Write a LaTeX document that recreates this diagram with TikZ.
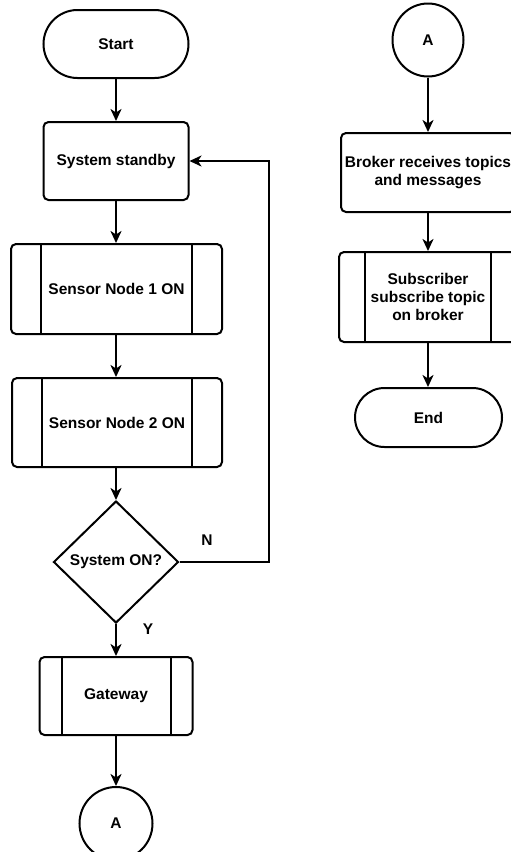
\documentclass[tikz,border=0pt]{standalone}
\usepackage{fontspec}
\setmainfont{Liberation Sans}
\usetikzlibrary{shapes.geometric,arrows.meta}
\begin{document}
\begin{tikzpicture}[x=1pt,y=-1pt,
  every node/.style={font=\fontsize{15.5}{18}\selectfont\bfseries, align=center, inner sep=0pt},
  box/.style={draw, line width=2pt, rectangle, rounded corners=5pt, minimum width=#1},
  term/.style={draw, line width=2pt, rectangle, rounded corners=#1},
  subproc/.style={draw, line width=2pt, rectangle, rounded corners=5pt,
    path picture={
      \draw[line width=2pt] ([xshift=#1]path picture bounding box.north west) -- ([xshift=#1]path picture bounding box.south west);
      \draw[line width=2pt] ([xshift=-#1]path picture bounding box.north east) -- ([xshift=-#1]path picture bounding box.south east);
    }},
  dec/.style={draw, line width=2pt, diamond, minimum width=125pt, minimum height=122pt},
  conn/.style={draw, line width=2pt, ellipse},
  arr/.style={line width=2pt, -{Stealth[length=12pt,width=11pt,inset=3.5pt]}},
  lbl/.style={font=\fontsize{15.5}{18}\selectfont\bfseries}
]
\path[fill=white] (0,0) rectangle (511,852);
\clip (0,0) rectangle (511,852);
\useasboundingbox (0,0) rectangle (511,852);

% left column
\node[term=34pt, minimum width=145pt, minimum height=68pt] (start) at (116,44) {Start};
\node[box=145pt, minimum height=78pt] (standby) at (116,161) {System standby};
\node[subproc=30pt, minimum width=211pt, minimum height=90pt] (sn1) at (116.5,289) {Sensor Node 1 ON};
\node[subproc=30pt, minimum width=210pt, minimum height=89pt] (sn2) at (117,422.5) {Sensor Node 2 ON};
\node[dec] (sys) at (116,562) {System ON?};
\node[subproc=22pt, minimum width=153pt, minimum height=78pt] (gate) at (116,696) {Gateway};
\node[conn, minimum width=73pt, minimum height=73pt] (aL) at (116,823.5) {A};
\coordinate (fb) at (269,0);

% right column
\node[conn, minimum width=71pt, minimum height=73pt] (aR) at (428,40) {A};
\node[box=174pt, minimum height=79pt] (broker) at (428,172.5) {Broker receives topics\\and messages};
\node[subproc=26pt, minimum width=178pt, minimum height=90pt] (sub) at (428,297) {Subscriber\\subscribe topic\\on broker};
\node[term=29.5pt, minimum width=147pt, minimum height=59pt] (end) at (428.5,417.5) {End};

% labels
\node[lbl] (nlab) at (207,540) {N};
\node[lbl] (ylab) at (148,629) {Y};

% connectors
\draw[arr] (start.south) -- (standby.north);
\draw[arr] (standby.south) -- (standby.south |- sn1.north);
\draw[arr] (sn1.south -| standby.south) -- (standby.south |- sn2.north);
\draw[arr] (sn2.south -| sys.north) -- (sys.north);
\draw[arr] (sys.south) -- (sys.south |- gate.north);
\draw[arr] (gate.south) -- (gate.south |- aL.north);
\draw[arr] (sys.east) -- (sys.east -| fb) |- (standby.east);
\draw[arr] (aR.south) -- (broker.north);
\draw[arr] (broker.south) -- (sub.north);
\draw[arr] (sub.south) -- (sub.south |- end.north);
\end{tikzpicture}
\end{document}
